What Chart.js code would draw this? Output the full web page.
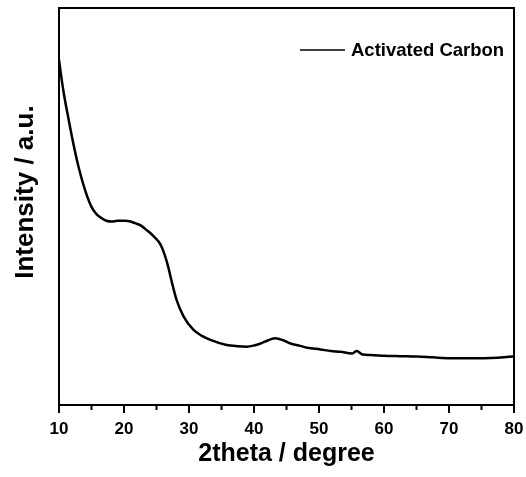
<!DOCTYPE html>
<html>
<head>
<meta charset="utf-8">
<script src="https://cdn.jsdelivr.net/npm/chart.js@4.4.0/dist/chart.umd.min.js"></script>
<style>
  html, body { margin: 0; padding: 0; background: #fff; }
  #wrap { width: 526px; height: 477px; }
</style>
</head>
<body>
<div id="wrap"><canvas id="c" width="526" height="477"></canvas></div>
<script>
// 2theta (degree)
const twoTheta = [10, 10.66, 11.4, 12.2, 13.0, 14.0, 15.0, 15.8, 16.6, 17.3, 18.1, 19.0, 20.2, 21.0, 21.7, 22.5, 23.3, 24.0, 24.8, 25.4, 25.8, 26.3, 26.8, 27.4, 28.1, 29.2, 30.7, 32.0, 33.3, 35.8, 37.5, 38.9, 40.0, 41.0, 42.2, 43.3, 44.5, 45.6, 47.1, 48.2, 50.2, 51.8, 53.3, 55.1, 55.8, 56.7, 58.0, 60.0, 62.5, 65.1, 67.5, 70.2, 72.5, 75.4, 77.5, 79.8, 80];
// intensity (arbitrary units, 0-100 of plot height)
const intensity = [86.9, 79.3, 72.6, 65.9, 60.0, 54.2, 49.9, 48.0, 47.0, 46.4, 46.2, 46.4, 46.4, 46.2, 45.8, 45.3, 44.3, 43.4, 42.1, 41.0, 39.8, 37.6, 34.8, 30.7, 26.4, 22.2, 18.9, 17.4, 16.4, 15.1, 14.8, 14.7, 15.0, 15.5, 16.3, 16.8, 16.3, 15.5, 14.9, 14.4, 14.0, 13.6, 13.4, 13.0, 13.6, 12.7, 12.6, 12.4, 12.3, 12.2, 12.0, 11.8, 11.8, 11.8, 11.9, 12.2, 12.2];
const xTickValues = [10, 20, 30, 40, 50, 60, 70, 80];
const seriesName = 'Activated Carbon';
const xTitle = '2theta / degree';
const yTitle = 'Intensity / a.u.';

const FONT = "'Liberation Sans', Arial, sans-serif";

const points = twoTheta.map((x, i) => ({ x: x, y: intensity[i] }));

const framePlugin = {
  id: 'frame',
  afterDraw(chart) {
    const ctx = chart.ctx;
    const a = chart.chartArea;
    const xs = chart.scales.x;
    ctx.save();
    ctx.strokeStyle = '#000';
    ctx.lineWidth = 2;
    ctx.strokeRect(a.left, a.top, a.right - a.left, a.bottom - a.top);
    // x ticks: major every 10, minor every 5
    for (let v = 10; v <= 80; v += 5) {
      const px = xs.getPixelForValue(v);
      const len = (v % 10 === 0) ? 8 : 5;
      ctx.beginPath();
      ctx.moveTo(px, a.bottom);
      ctx.lineTo(px, a.bottom + len);
      ctx.stroke();
    }
    // legend inside the plot
    const ly = 50;
    ctx.lineWidth = 1.5;
    ctx.beginPath();
    ctx.moveTo(300, ly);
    ctx.lineTo(345, ly);
    ctx.stroke();
    ctx.fillStyle = '#000';
    ctx.font = 'bold 18.5px ' + FONT;
    ctx.textBaseline = 'middle';
    ctx.textAlign = 'left';
    ctx.fillText(seriesName, 351, ly + 1);
    ctx.restore();
  }
};

new Chart(document.getElementById('c'), {
  type: 'line',
  data: {
    datasets: [{
      label: seriesName,
      data: points,
      borderColor: '#000',
      borderWidth: 2.5,
      pointRadius: 0,
      cubicInterpolationMode: 'monotone',
      fill: false
    }]
  },
  options: {
    responsive: false,
    animation: false,
    layout: { padding: { top: 8, right: 12, left: 0, bottom: 0 } },
    plugins: {
      legend: { display: false },
      tooltip: { enabled: false }
    },
    scales: {
      x: {
        type: 'linear',
        min: 10,
        max: 80,
        afterFit(s) { s.height = 72; s.paddingRight = 0; s.paddingLeft = 0; },
        afterBuildTicks(s) { s.ticks = xTickValues.map(v => ({ value: v })); },
        grid: { display: false },
        border: { display: true, color: '#000', width: 2 },
        ticks: {
          color: '#000',
          padding: 6,
          maxRotation: 0,
          font: { family: FONT, size: 17, weight: 'bold' }
        },
        title: {
          display: true,
          text: xTitle,
          color: '#000',
          padding: { top: 0, bottom: 8 },
          font: { family: FONT, size: 25, weight: 'bold' }
        }
      },
      y: {
        type: 'linear',
        min: 0,
        max: 100,
        afterFit(s) { s.width = 59; },
        grid: { display: false },
        border: { display: true, color: '#000', width: 2 },
        ticks: { display: false },
        title: {
          display: true,
          text: '    ' + yTitle,
          color: '#000',
          padding: { top: 10, bottom: 0 },
          font: { family: FONT, size: 26, weight: 'bold' }
        }
      }
    }
  },
  plugins: [framePlugin]
});
</script>
</body>
</html>
